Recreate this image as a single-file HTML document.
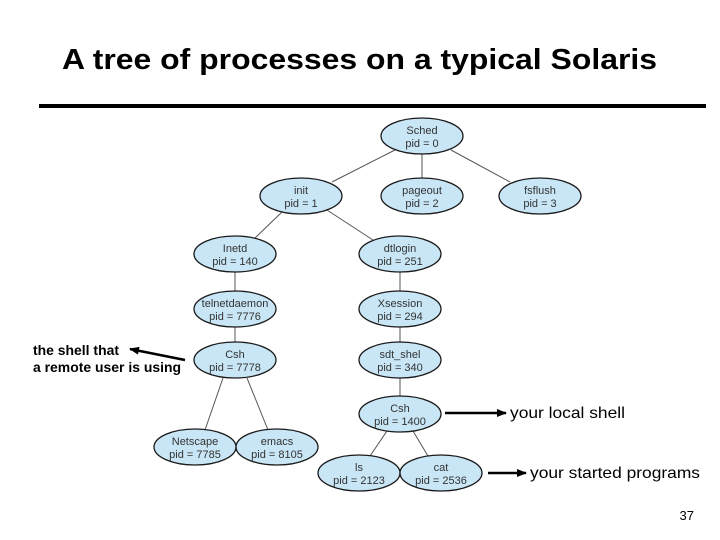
<!DOCTYPE html>
<html><head><meta charset="utf-8"><style>
body{margin:0;background:#fff;}
svg{display:block;font-family:"Liberation Sans",Arial,sans-serif;}
</style></head><body>
<svg width="720" height="540" viewBox="0 0 720 540" xmlns="http://www.w3.org/2000/svg">
<defs><marker id="ah" markerWidth="10" markerHeight="8" refX="9" refY="4" orient="auto" markerUnits="userSpaceOnUse"><path d="M0,0 L10,4 L0,8 z" fill="#000"/></marker></defs>
<text x="62" y="69" font-size="29" font-weight="bold" textLength="595" lengthAdjust="spacingAndGlyphs">A tree of processes on a typical Solaris</text>
<rect x="39" y="104" width="667" height="4" fill="#000"/>
<g stroke="#555" stroke-width="1">
<line x1="395" y1="150" x2="332" y2="182"/>
<line x1="422" y1="154" x2="422" y2="178"/>
<line x1="451" y1="150" x2="510" y2="182"/>
<line x1="282" y1="212" x2="255" y2="238"/>
<line x1="327" y1="210" x2="373" y2="240"/>
<line x1="235" y1="272" x2="235" y2="292"/>
<line x1="400" y1="272" x2="400" y2="292"/>
<line x1="235" y1="327" x2="235" y2="343"/>
<line x1="400" y1="327" x2="400" y2="343"/>
<line x1="400" y1="378" x2="400" y2="397"/>
<line x1="223" y1="378" x2="205" y2="430"/>
<line x1="247" y1="378" x2="268" y2="430"/>
<line x1="387" y1="431" x2="370" y2="456"/>
<line x1="413" y1="431" x2="428" y2="456"/>
</g>
<g fill="#c8e6f5" stroke="#1a1a1a" stroke-width="1.3">
<ellipse cx="422" cy="136" rx="41" ry="18"/>
<ellipse cx="301" cy="196" rx="41" ry="18"/>
<ellipse cx="422" cy="196" rx="41" ry="18"/>
<ellipse cx="540" cy="196" rx="41" ry="18"/>
<ellipse cx="235" cy="254" rx="41" ry="18"/>
<ellipse cx="400" cy="254" rx="41" ry="18"/>
<ellipse cx="235" cy="309" rx="41" ry="18"/>
<ellipse cx="400" cy="309" rx="41" ry="18"/>
<ellipse cx="235" cy="360" rx="41" ry="18"/>
<ellipse cx="400" cy="360" rx="41" ry="18"/>
<ellipse cx="400" cy="414" rx="41" ry="18"/>
<ellipse cx="195" cy="447" rx="41" ry="18"/>
<ellipse cx="277" cy="447" rx="41" ry="18"/>
<ellipse cx="359" cy="473" rx="41" ry="18"/>
<ellipse cx="441" cy="473" rx="41" ry="18"/>
</g>
<g font-size="11" fill="#333" text-anchor="middle">
<text x="422" y="134">Sched</text><text x="422" y="147">pid = 0</text>
<text x="301" y="194">init</text><text x="301" y="207">pid = 1</text>
<text x="422" y="194">pageout</text><text x="422" y="207">pid = 2</text>
<text x="540" y="194">fsflush</text><text x="540" y="207">pid = 3</text>
<text x="235" y="252">Inetd</text><text x="235" y="265">pid = 140</text>
<text x="400" y="252">dtlogin</text><text x="400" y="265">pid = 251</text>
<text x="235" y="307">telnetdaemon</text><text x="235" y="320">pid = 7776</text>
<text x="400" y="307">Xsession</text><text x="400" y="320">pid = 294</text>
<text x="235" y="358">Csh</text><text x="235" y="371">pid = 7778</text>
<text x="400" y="358">sdt_shel</text><text x="400" y="371">pid = 340</text>
<text x="400" y="412">Csh</text><text x="400" y="425">pid = 1400</text>
<text x="195" y="445">Netscape</text><text x="195" y="458">pid = 7785</text>
<text x="277" y="445">emacs</text><text x="277" y="458">pid = 8105</text>
<text x="359" y="471">ls</text><text x="359" y="484">pid = 2123</text>
<text x="441" y="471">cat</text><text x="441" y="484">pid = 2536</text>
</g>
<g stroke="#000" stroke-width="2.5">
<line x1="185" y1="360" x2="130" y2="349" marker-end="url(#ah)"/>
<line x1="445" y1="413" x2="506" y2="413" marker-end="url(#ah)"/>
<line x1="488" y1="473" x2="526" y2="473" marker-end="url(#ah)"/>
</g>
<text x="33" y="355" font-size="14" font-weight="bold" textLength="86" lengthAdjust="spacingAndGlyphs">the shell that</text>
<text x="33" y="372" font-size="14" font-weight="bold" textLength="148" lengthAdjust="spacingAndGlyphs">a remote user is using</text>
<text x="510" y="418" font-size="16" textLength="115" lengthAdjust="spacingAndGlyphs">your local shell</text>
<text x="530" y="478" font-size="16" textLength="170" lengthAdjust="spacingAndGlyphs">your started programs</text>
<text x="694" y="520" font-size="13" text-anchor="end">37</text>
</svg>
</body></html>
